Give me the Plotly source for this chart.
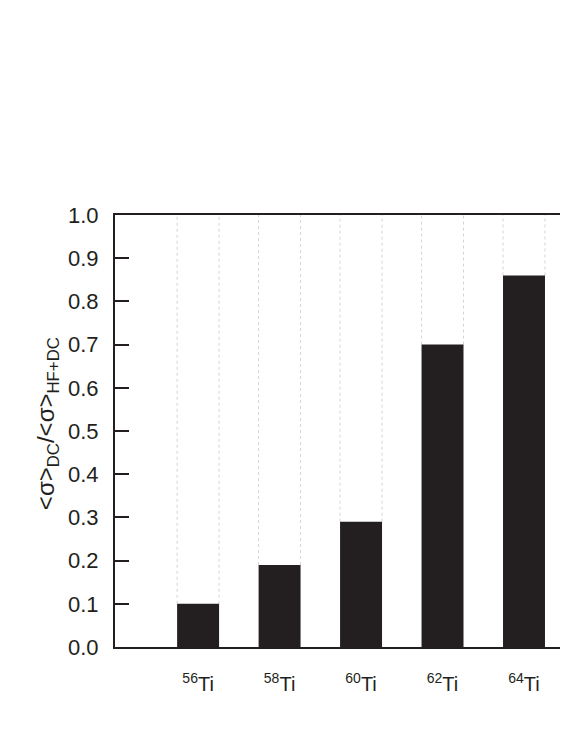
import plotly.graph_objects as go

# mass numbers of the Ti isotopes and the DC fraction of the cross section
isotopes = [56, 58, 60, 62, 64]
dc_fraction = [0.10, 0.19, 0.29, 0.70, 0.86]
y_ticks = [0.0, 0.1, 0.2, 0.3, 0.4, 0.5, 0.6, 0.7, 0.8, 0.9, 1.0]

FONT = "Liberation Sans, Arial, sans-serif"
INK = "#231f20"
BAR_WIDTH = 0.515

positions = list(range(len(isotopes)))
tick_text = [f"<sup>{a}</sup>Ti" for a in isotopes]

fig = go.Figure(
    go.Bar(
        x=positions,
        y=dc_fraction,
        width=BAR_WIDTH,
        marker=dict(color=INK, line=dict(width=0)),
    )
)

# faint dotted guides above the bar edges, as in the scanned original
for pos, val in zip(positions, dc_fraction):
    for edge in (pos - BAR_WIDTH / 2, pos + BAR_WIDTH / 2):
        fig.add_shape(
            type="line",
            x0=edge, x1=edge, y0=val, y1=1.0,
            line=dict(color="#d4d4d4", width=1, dash="dot"),
            layer="below",
        )

fig.update_layout(
    width=560,
    height=726,
    margin=dict(l=107, r=0, t=207, b=87),
    paper_bgcolor="white",
    plot_bgcolor="white",
    showlegend=False,
    font=dict(family=FONT, color=INK),
)

fig.update_xaxes(
    range=[-1.02, 4.54],
    tickmode="array",
    tickvals=positions,
    ticktext=tick_text,
    tickfont=dict(size=20),
    ticks="",
    ticklabelstandoff=18,
    showgrid=False,
    zeroline=False,
    showline=True,
    linewidth=2,
    linecolor=INK,
    mirror=True,
)

fig.update_yaxes(
    range=[0, 1.0],
    tickmode="array",
    tickvals=y_ticks,
    ticktext=[f"{v:.1f}" for v in y_ticks],
    tickfont=dict(size=22),
    ticks="inside",
    ticklen=14,
    tickwidth=2,
    tickcolor=INK,
    ticklabelstandoff=10,
    showgrid=False,
    zeroline=False,
    showline=True,
    linewidth=2,
    linecolor=INK,
    mirror=False,
)

fig.add_annotation(
    text="&lt;σ&gt;<sub>DC</sub>/&lt;σ&gt;<sub>HF+DC</sub>",
    xref="paper",
    yref="paper",
    x=-0.15,
    y=0.516,
    xanchor="center",
    yanchor="middle",
    textangle=-90,
    showarrow=False,
    font=dict(size=24, family=FONT, color=INK),
)

fig.write_html("out.html")
